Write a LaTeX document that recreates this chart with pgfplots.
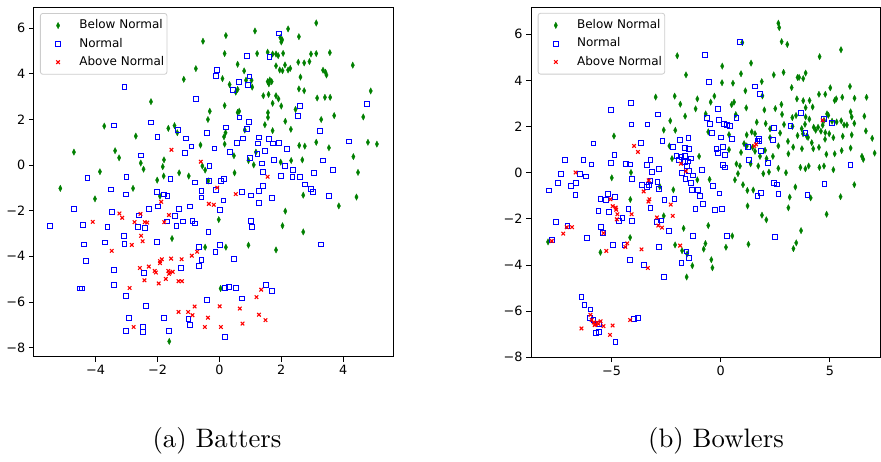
\documentclass[border=0pt]{standalone}
\usepackage{fontspec}
\usepackage{pgfplots}
\pgfplotsset{compat=1.18}
\newfontfamily\dv{DejaVu Sans}
\definecolor{mplgreen}{HTML}{008000}
\definecolor{mplblue}{HTML}{0000FF}
\definecolor{mplred}{HTML}{FF0000}

\pgfplotsset{
  tsne/.style={
    scale only axis, anchor=south west,
    axis line style={black, line width=0.9pt},
    tick align=outside, tick pos=left,
    major tick length=4.9pt,
    every tick/.style={black, line width=0.9pt},
    tick label style={font=\dv\fontsize{12.8}{15}\selectfont},
    ytick={-8,-6,-4,-2,0,2,4,6},
    yticklabels={−8,−6,−4,−2,0,2,4,6},
    legend style={at={(0.0175,0.9842)}, anchor=north west,
      draw=black!20, line width=0.8pt, rounded corners=2.5pt, fill=white,
      font=\dv\fontsize{12}{14}\selectfont,
      inner xsep=2.7pt, inner ysep=6.4pt, row sep=6.8pt,
      nodes={inner xsep=0pt, inner ysep=0pt, text height=9pt, text depth=2.5pt}},
    legend cell align=left,
    legend image code/.code={
      \draw[##1] plot coordinates {(0pt,0pt)};
      \path[draw=none, fill=none] (-15pt,-4pt) rectangle (21.3pt,4pt);},
  },
  bn/.style={only marks, mark=diamond*, mark size=3.2pt, color=mplgreen,
    mark options={xscale=0.7, fill=mplgreen, draw=mplgreen, line width=0.3pt}},
  nm/.style={only marks, mark=square, mark size=2.4pt, color=mplblue,
    mark options={draw=mplblue, line width=0.9pt}},
  an/.style={only marks, mark=x, mark size=2.5pt, color=mplred,
    mark options={draw=mplred, line width=1.1pt}},
}

\begin{document}
\begin{tikzpicture}
\useasboundingbox (0,0) rectangle (881pt,462pt);

% (a) Batters
\begin{axis}[tsne, at={(33.7pt,105.3pt)}, width=359.6pt, height=349.2pt,
  xmin=-6.0, xmax=5.62, ymin=-8.40, ymax=6.91,
  xtick={-4,-2,0,2,4}, xticklabels={−4,−2,0,2,4}]
\addplot[bn] coordinates {
(-4.70,0.57) (-3.86,-0.29) (-3.72,1.71) (-3.37,0.63) (-3.24,0.32) (-2.70,1.27)
(-2.54,0.09) (-2.45,-0.18) (-2.21,2.78) (-1.83,-0.07) (-1.79,0.23) (-1.65,1.61)
(-1.45,1.73) (-1.36,1.42) (-1.30,-0.34) (-1.15,3.76) (-0.76,4.23)
(-0.53,5.43) (0.21,5.68) (1.15,5.88) (2.22,5.97) (3.13,6.23) (2.57,5.63)
(1.97,5.59) (2.03,5.49) (2.00,5.40) (0.17,4.89) (1.22,4.89) (1.56,4.95)
(1.72,4.87) (1.83,4.87) (1.90,4.80) (2.06,4.90) (2.96,4.87) (3.13,4.89)
(3.57,4.93) (0.59,4.42) (0.80,4.13) (1.83,4.35) (1.95,4.17) (2.04,4.14)
(2.12,4.39) (2.22,4.17) (2.29,4.24) (2.55,4.51) (2.74,4.48) (2.91,4.54)
(3.35,4.16) (3.43,4.07) (3.46,3.95) (4.31,4.38) (0.10,3.79) (0.33,3.53)
(0.86,3.72) (1.04,3.72) (1.06,3.42) (0.59,3.32) (0.53,3.20) (1.56,3.66)
(1.63,3.73) (1.69,3.66) (1.60,3.56) (2.62,3.86) (1.42,3.04) (1.59,3.10)
(1.83,3.04) (1.91,2.90) (1.72,2.71) (2.00,2.59) (2.57,3.34) (2.74,3.26)
(3.16,2.94) (3.41,2.97) (3.58,2.97) (4.89,3.25) (0.17,2.61) (-0.31,2.36)
(-0.37,2.00) (0.59,2.31) (0.64,2.36) (1.57,2.30) (1.57,2.09) (2.46,2.44)
(2.13,1.92) (1.47,1.77) (2.31,1.57) (1.72,1.51) (0.82,1.54) (0.20,1.42)
(0.15,1.24) (3.29,2.00) (3.71,2.17) (4.65,2.11) (-0.61,0.88) (0.17,0.92)
(2.58,0.86) (2.76,0.83) (3.13,1.00) (3.54,0.76) (4.80,1.00) (5.09,0.92)
(0.47,0.41) (1.18,0.57) (0.94,0.20) (1.11,0.01) (1.98,0.13) (2.32,0.20)
(2.68,0.23) (4.33,0.37) (-0.55,-0.04) (-0.46,-0.22) (0.49,-0.34) (4.48,-0.32)
(-5.14,-1.02) (-4.02,-1.48) (-2.79,-1.02) (-2.01,-0.66) (-1.80,-0.48)
(-0.99,-0.48) (-1.92,-1.36) (-1.53,-3.22) (-1.62,-7.73)
(-0.36,-0.69) (2.71,-1.32) (4.43,-1.40) (3.86,-1.79) (2.13,-2.02) (-0.02,-2.39)
(2.04,-2.66) (2.71,-2.93) (-0.46,-3.60) (0.21,-3.60) (0.94,-3.51) (1.83,-3.72)
(0.04,-5.41)};
\addlegendentry{Below Normal}
\addplot[nm] coordinates {
(-3.07,3.41) (-3.41,1.74) (-2.21,1.87) (-2.00,1.23) (-2.54,0.42) (-1.35,1.54)
(-1.09,1.17) (-0.90,0.82) (-1.10,0.53) (-0.75,2.90)
(1.93,5.77) (0.89,4.77) (1.62,4.73) (-0.08,4.16) (-0.10,3.92) (0.97,3.89)
(0.62,3.63) (0.93,3.53) (0.45,3.28) (2.60,2.61) (2.53,2.17) (4.77,2.69)
(0.95,1.90) (0.65,2.09) (0.21,1.65) (0.88,1.59) (-0.41,1.40) (3.26,1.48)
(0.75,1.17) (0.58,0.98) (1.29,1.21) (1.24,0.95) (1.61,1.13) (1.72,0.95)
(1.93,0.98) (-0.16,0.73) (0.35,0.59) (1.23,0.50) (1.48,0.61) (2.19,0.70)
(4.18,1.04) (1.00,0.31) (1.76,0.22) (1.38,0.07) (2.13,-0.03) (3.35,0.20)
(-0.32,-0.04) (1.42,-0.31) (2.37,-0.20) (3.68,-0.22) (3.06,-0.34)
(-4.26,-0.56) (-3.00,-0.51) (-1.58,-0.59) (-0.79,-0.76) (-3.50,-1.07)
(-3.03,-1.29) (-2.01,-1.17) (-1.79,-1.29) (-1.68,-1.35) (-4.70,-1.92)
(-5.47,-2.68) (-4.42,-2.62) (-4.38,-3.48) (-4.31,-4.21) (-3.47,-2.06)
(-3.62,-2.72) (-3.71,-3.39) (-3.09,-3.12) (-3.07,-3.44) (-2.59,-2.21)
(-2.28,-1.92) (-1.99,-1.81) (-2.62,-2.71) (-2.41,-2.74) (-2.03,-3.36)
(-1.70,-2.47) (-1.44,-2.22) (-1.39,-2.66) (-1.31,-1.93) (-1.19,-2.47)
(-0.94,-1.81) (-0.87,-2.46) (-0.78,-2.56) (-0.65,-3.60) (-0.65,-4.43)
(-2.43,-4.72) (-1.25,-4.52) (-3.40,-4.58) (-3.40,-5.27) (-4.50,-5.41)
(-4.45,-5.41) (-3.02,-5.74) (-2.37,-6.19) (-2.91,-6.69) (-3.01,-7.27)
(-2.47,-7.10) (-2.47,-7.30) (-1.79,-6.70) (-1.62,-7.27) (-1.00,-6.73)
(-0.95,-7.02)
(-0.34,-0.70) (0.04,-0.70) (0.16,-0.59) (2.00,-0.48) (2.36,-0.51) (2.61,-0.51)
(2.77,-0.85) (2.96,-1.05) (3.03,-1.17) (3.55,-1.35) (1.42,-0.92) (1.29,-1.13)
(1.02,-1.33) (0.74,-1.17) (1.70,-1.43) (1.29,-1.67) (0.13,-1.55) (-0.11,-1.10)
(-0.58,-1.14) (-0.58,-1.42) (0.02,-1.95) (1.02,-2.46) (1.06,-2.72) (-0.35,-2.93)
(0.03,-3.51) (-0.13,-3.80) (0.48,-4.13) (-0.58,-4.17) (3.29,-3.48) (0.19,-5.37)
(0.31,-5.33) (0.53,-5.39) (1.51,-5.25) (1.70,-5.52) (-0.39,-5.90) (0.72,-5.85)
(0.19,-7.52)};
\addlegendentry{Normal}
\addplot[an] coordinates {
(-1.55,0.67) (-0.60,0.15)
(-4.09,-2.49) (-3.23,-2.12) (-3.14,-2.31) (-2.74,-2.50) (-2.55,-2.14)
(-2.41,-2.50) (-2.33,-2.52) (-2.53,-3.10) (-2.48,-3.34) (-2.83,-3.50)
(-3.48,-3.76) (-1.88,-1.61) (-1.63,-2.19) (-1.78,-2.50) (-1.86,-4.13)
(-1.56,-4.10) (-1.22,-4.13) (-0.89,-3.97) (-0.72,-3.80) (-2.57,-4.51)
(-2.28,-4.45) (-2.42,-5.05) (-2.09,-4.64) (-2.05,-4.71) (-1.92,-4.21)
(-1.92,-4.30) (-1.65,-4.64) (-1.60,-4.71) (-1.51,-4.68) (-1.63,-4.77)
(-1.73,-4.99) (-1.96,-5.19) (-1.32,-5.09) (-1.21,-5.09) (-2.90,-5.39)
(-2.77,-7.10) (-1.32,-6.44) (-1.01,-6.44) (-0.87,-6.58) (-0.80,-6.20)
(1.56,-0.51) (-0.07,-0.99) (0.53,-1.27) (-0.34,-1.70) (-0.18,-1.74)
(1.35,-5.46) (1.20,-5.79) (0.01,-6.19) (0.66,-6.29) (-0.37,-6.69)
(-0.47,-7.10) (0.05,-7.10) (0.75,-6.95) (1.28,-6.56) (1.49,-6.80)};
\addlegendentry{Above Normal}
\end{axis}

% (b) Bowlers
\begin{axis}[tsne, at={(531pt,104.7pt)}, width=349.5pt, height=350pt,
  xmin=-8.69, xmax=7.32, ymin=-8.0, ymax=7.17,
  legend style={at={(0.0192,0.9842)}},
  xtick={-5,0,5}, xticklabels={−5,0,5}]
\addplot[bn] coordinates {
(-2.98,3.28) (-2.11,3.32) (-4.89,1.59) (-2.31,2.25) (-2.61,1.85) (-2.08,1.84)
(-2.35,1.16) (-2.23,0.61) (-4.11,0.01)
(2.64,6.48) (2.68,6.29) (2.79,5.68) (3.05,5.56) (0.99,5.64) (-1.99,5.07)
(4.53,5.03) (5.51,5.33) (1.39,4.75) (0.07,4.62) (-1.59,4.24) (0.93,4.29)
(2.43,4.24) (2.88,4.35) (3.52,4.13) (3.59,4.13) (3.78,4.08) (3.89,4.32)
(0.06,3.90) (0.56,3.88) (1.88,3.95) (3.25,3.69) (-1.07,3.20)
(-0.29,3.32) (1.13,3.55) (1.91,3.33) (4.50,3.40) (4.79,3.40) (5.02,3.68)
(5.92,3.74) (5.22,3.13) (5.29,3.20) (5.57,3.27) (6.13,3.23) (6.68,3.27)
(-1.85,2.97) (-1.15,2.77) (-0.46,3.06) (0.50,2.95) (0.61,3.06) (1.17,2.81)
(2.00,2.72) (2.50,2.78) (2.78,2.96) (3.49,3.20) (3.78,3.12) (4.07,3.13)
(3.89,2.82) (4.21,2.85) (2.81,2.53) (3.28,2.39) (3.45,2.48) (3.89,2.42)
(4.06,2.32) (4.87,2.55) (4.93,2.49) (5.95,2.64) (6.00,2.42) (6.58,2.45)
(-1.63,2.45) (-0.69,2.55) (0.69,2.52) (1.65,2.19) (2.06,2.13) (2.26,1.90)
(2.90,2.09) (3.29,2.01) (3.71,1.91) (3.86,2.10) (4.26,1.97) (4.46,1.97)
(4.73,2.27) (4.67,2.06) (5.10,2.23) (5.31,2.20) (5.52,2.25) (5.65,2.07)
(5.78,2.07) (6.12,2.14) (-0.57,1.77) (0.38,1.65) (1.19,1.64)
(1.42,1.77) (1.57,1.69) (2.72,1.72) (3.52,1.61) (3.77,1.69) (4.35,1.84)
(4.59,1.80) (4.79,1.74) (4.97,1.69) (5.16,1.52) (5.59,1.58) (6.00,1.64)
(6.65,1.81) (6.94,1.49) (1.07,1.26) (1.19,1.16) (0.93,0.88) (1.46,1.10)
(1.57,0.93) (2.03,0.97) (2.26,1.52) (2.64,1.16) (3.08,1.36) (3.32,1.11)
(3.72,1.04) (3.94,1.58) (4.00,1.53) (4.17,1.30) (4.24,1.04) (4.50,1.10)
(4.78,1.45) (4.84,0.80) (5.22,0.82) (5.54,0.96) (5.95,1.07) (6.47,0.71)
(7.05,0.85) (-0.99,0.71) (0.38,1.00) (1.80,0.71) (2.10,0.61) (2.39,0.71)
(3.10,0.82) (1.37,0.39) (0.72,0.38) (0.88,0.29) (0.79,-0.04) (1.72,0.29)
(1.95,-0.04) (2.21,0.03) (2.64,0.19) (2.99,0.00) (3.65,0.23) (3.88,0.17)
(4.03,0.29) (4.52,0.23) (4.73,0.29) (5.16,0.13) (6.53,0.58)
(-4.99,-0.22) (-2.79,-0.60) (-4.14,-1.16) (-2.61,-1.87) (-4.15,-2.81)
(-5.51,-3.45) (-7.91,-3.00)
(-1.07,-0.31) (-0.51,-0.29) (0.65,-0.31) (-2.17,-0.74) (1.02,-0.52)
(1.22,-0.77) (1.49,-0.75) (3.42,-0.62) (3.16,-1.06) (4.12,-1.09) (5.49,-1.04)
(6.12,-0.52) (1.23,-1.44) (3.10,-1.52) (4.85,-1.80) (-1.70,-2.41) (-0.57,-2.29)
(1.89,-1.84) (2.09,-2.04) (3.68,-2.51) (0.53,-2.74) (-2.09,-3.13) (-0.70,-3.07)
(-0.78,-3.31) (0.24,-3.23) (1.27,-3.10) (3.46,-3.04) (3.33,-3.29) (-1.77,-3.38)
(-1.54,-3.52) (-1.30,-4.03) (-0.43,-3.77) (-0.38,-4.12) (-1.56,-4.52)};
\addlegendentry{Below Normal}
\addplot[nm] coordinates {
(-4.11,3.01) (-5.04,2.71) (-4.09,2.09) (-3.36,2.09) (-2.89,2.53) (-5.83,1.27)
(-2.67,1.39) (-4.87,0.77) (-7.13,0.57) (-6.29,0.57) (-5.92,0.36) (-5.01,0.43)
(-4.34,0.39) (-4.14,0.36) (-3.66,1.30) (-3.22,0.57) (-3.37,0.32) (-2.83,0.17)
(-3.16,0.04) (-7.33,-0.06) (-6.46,-0.04)
(0.87,5.68) (-0.72,5.10) (-0.55,3.95) (1.57,3.74) (1.81,3.42) (-0.12,2.78)
(-0.63,2.39) (-0.08,2.30) (0.72,2.36) (-0.51,2.10) (0.14,2.10) (0.30,2.06)
(0.43,2.03) (-0.41,1.74) (0.00,1.53) (0.52,1.46) (-2.17,1.10) (-1.88,1.43)
(-1.48,1.51) (-1.63,1.06) (-1.44,1.03) (-0.20,1.04) (0.12,1.10) (-0.14,0.87)
(0.18,0.77) (-2.03,0.74) (-1.80,0.67) (-1.65,0.74) (-1.36,0.62) (-1.50,0.49)
(-1.91,0.54) (-1.65,0.48) (1.25,1.13) (1.68,1.39) (1.74,1.48) (1.77,1.39)
(1.86,0.94) (1.28,0.54) (2.17,0.43) (2.43,1.94) (2.41,1.42) (3.19,2.01)
(3.66,2.58) (3.88,1.74) (5.11,2.16) (4.73,2.32) (5.94,0.33) (-0.86,0.13)
(0.11,0.33) (0.21,0.23) (-1.54,0.29) (-1.44,0.06) (-1.76,0.00)
(-7.85,-0.77) (-7.46,-0.44) (-6.87,-0.57) (-6.64,-0.45) (-6.65,-0.96)
(-6.18,-0.16) (-5.51,-1.15) (-5.24,-1.18) (-5.16,-0.91) (-4.86,-1.04)
(-5.11,-1.70) (-5.60,-1.65) (-5.48,-2.36) (-5.39,-2.61) (-6.11,-2.83)
(-7.53,-2.12) (-7.02,-2.31) (-7.74,-2.91) (-4.08,-0.28) (-3.62,-0.52)
(-3.37,-0.60) (-3.30,-0.52) (-3.22,-0.35) (-2.90,-0.41) (-2.83,-0.70)
(-3.22,-1.52) (-4.23,-1.58) (-4.05,-2.10) (-4.50,-1.97) (-4.67,-2.09)
(-2.58,-1.18) (-2.93,-2.15) (-2.72,-2.07) (-2.37,-2.51) (-2.84,-3.20)
(-4.93,-3.13) (-4.41,-3.12) (-4.14,-3.77) (-3.51,-3.99) (-2.60,-4.51)
(-6.38,-5.39) (-6.24,-5.74) (-5.97,-5.93) (-5.98,-6.31) (-5.83,-6.39)
(-5.57,-6.57) (-5.71,-6.93) (-5.59,-6.90) (-4.82,-7.33) (-3.99,-6.35)
(-3.80,-6.29)
(-1.62,-0.26) (-1.28,-0.12) (-1.36,-0.44) (-0.34,-0.57) (-1.31,-0.74)
(-1.05,-0.74) (-0.96,-0.99) (-2.12,-1.13) (-0.06,-0.90) (-1.16,-1.57)
(-0.80,-1.35) (-0.28,-1.61) (0.07,-1.57) (-1.27,-2.74) (0.27,-2.74)
(-1.57,-3.41) (-1.44,-3.68) (-1.80,-3.91) (2.49,-2.78) (1.68,-0.99)
(1.85,-0.87) (2.44,-0.44) (2.58,-0.51) (2.64,-0.91) (3.97,-0.97) (4.75,-0.49)};
\addlegendentry{Normal}
\addplot[an] coordinates {
(-3.97,1.16) (-3.79,0.90) (-6.65,0.01)
(-1.82,0.39) (-1.59,0.07) (1.54,1.16) (1.62,1.23) (4.67,2.27)
(-7.74,-2.96) (-7.21,-2.64) (-7.05,-2.36) (-6.81,-2.36) (-5.37,-2.62)
(-5.24,-3.39) (-5.05,-1.15) (-4.95,-1.45) (-4.81,-1.51) (-4.79,-1.60)
(-4.73,-1.80) (-4.76,-2.02) (-4.08,-1.80) (-4.37,-3.22) (-4.28,-3.06)
(-3.63,-3.32) (-3.34,-4.13) (-3.53,-0.81) (-3.30,-0.33) (-3.31,-1.25)
(-3.27,-1.15) (-2.92,-1.94) (-2.86,-2.29) (-2.69,-2.38) (-6.38,-6.75)
(-5.97,-6.16) (-5.91,-6.38) (-5.82,-6.49) (-5.74,-6.57) (-5.66,-6.49)
(-5.60,-6.55) (-5.77,-6.60) (-5.50,-6.44) (-5.37,-6.65) (-4.95,-6.62)
(-5.07,-7.03) (-4.15,-6.38)
(-2.29,-1.38) (-2.20,-1.87) (-1.86,-3.16)};
\addlegendentry{Above Normal}
\end{axis}

\node[anchor=base] at (217pt,14pt) {\scalebox{2.67}{\fontsize{10}{12}\selectfont (a) Batters}};
\node[anchor=base] at (716pt,14pt) {\scalebox{2.67}{\fontsize{10}{12}\selectfont (b) Bowlers}};
\end{tikzpicture}
\end{document}
